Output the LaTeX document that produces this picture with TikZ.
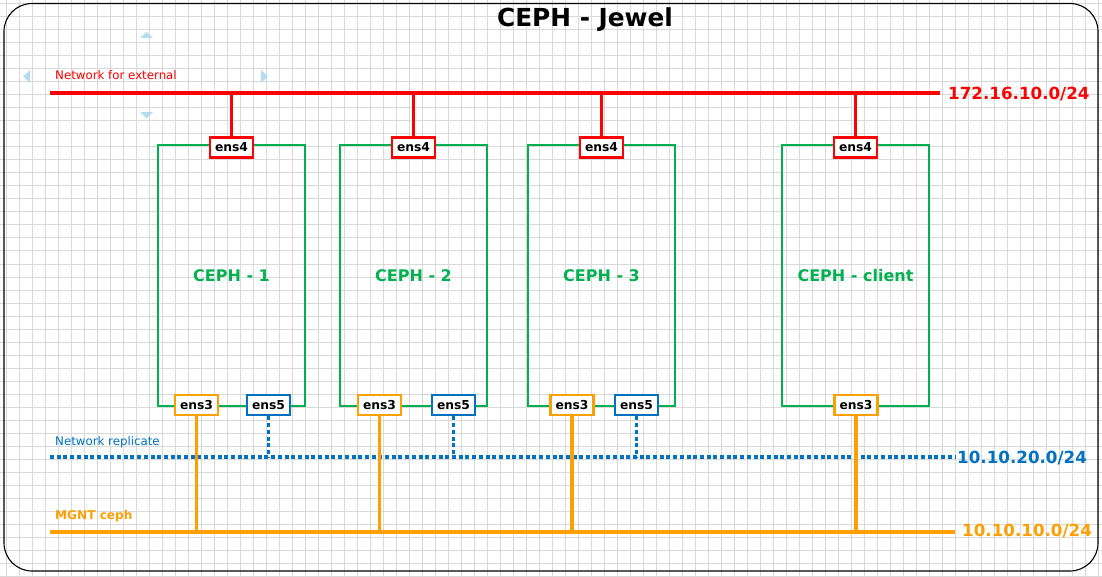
\documentclass[tikz,border=0pt]{standalone}
\usepackage{fontspec}
\setmainfont{DejaVu Sans}
\definecolor{netred}{HTML}{FF0000}
\definecolor{netgreen}{HTML}{00B050}
\definecolor{netblue}{HTML}{0070C0}
\definecolor{netorange}{HTML}{FFA000}
\definecolor{gridgray}{HTML}{D9D9D9}
\definecolor{handle}{HTML}{B8DCEF}
\tikzset{
  hostbox/.style={draw=netgreen, line width=2.7pt, rectangle, minimum width=147pt, minimum height=261pt, inner sep=0pt, text=netgreen, font=\fontsize{16}{18}\selectfont\bfseries},
  nicbox/.style={draw=#1, line width=2.8pt, fill=white, rectangle, minimum width=43pt, minimum height=20pt, inner sep=0pt, font=\fontsize{12.3}{14}\selectfont\bfseries},
  bus/.style={line width=3.2pt, draw=#1},
  dotbus/.style={line width=3.2pt, draw=netblue, dash pattern=on 4pt off 2.7pt},
  iplabel/.style={anchor=base west, inner sep=0pt, font=\fontsize{16.7}{19}\selectfont\bfseries, text=#1},
  netlabel/.style={anchor=base west, inner sep=0pt, font=\fontsize{11.8}{14}\selectfont, text=#1},
  gridline/.style={draw=gridgray, line width=1pt},
}
\begin{document}
\begin{tikzpicture}[x=1pt,y=-1pt]
\useasboundingbox (0,0) rectangle (1102,577);
\clip (0,0) rectangle (1102,577);
\fill[white] (0,0) rectangle (1102,577);
% grid
\foreach \k in {0,...,84} {\draw[gridline] ({6.5+13*\k},0) -- ({6.5+13*\k},577);}
\foreach \k in {0,...,44} {\draw[gridline] (0,{4+13*\k}) -- (1102,{4+13*\k});}
% frame
\draw[black, line width=1.1pt, rounded corners=28pt] (4,3.5) rectangle (1098,571);
% title
\node[anchor=base, inner sep=0pt, font=\fontsize{24.8}{28}\selectfont\bfseries] (title) at (585,26.5) {CEPH - Jewel};
% handle triangles
\fill[handle] (140,38) -- (153,38) -- (146.5,32) -- cycle;
\fill[handle] (140,112) -- (153,112) -- (146.5,118.5) -- cycle;
\fill[handle] (30,70) -- (30,83) -- (23,76.5) -- cycle;
\fill[handle] (261,70) -- (261,83) -- (268,76.5) -- cycle;
% network bus coordinates
\coordinate (redL) at (50,93);
\coordinate (redR) at (940,93);
\coordinate (blueL) at (50,457);
\coordinate (blueR) at (955,457);
\coordinate (oraL) at (50,532);
\coordinate (oraR) at (955,532);
% labels
\node[netlabel=netred] (lext) at (55,80) {Network for external};
\node[netlabel=netblue] (lrep) at (55,445) {Network replicate};
\node[anchor=base west, inner sep=0pt, font=\fontsize{12.1}{14}\selectfont\bfseries, text=netorange] (lmg) at (55,519) {MGNT ceph};
\node[iplabel=netred] (ipred) at (948,99.5) {172.16.10.0/24};
\node[iplabel=netblue] (ipblue) at (957,463.3) {10.10.20.0/24};
\node[iplabel=netorange] (ipora) at (962,536.7) {10.10.10.0/24};
% hosts
\node[hostbox] (h1) at (231.5,275.5) {CEPH - 1};
\node[hostbox] (h2) at (413.5,275.5) {CEPH - 2};
\node[hostbox] (h3) at (601.5,275.5) {CEPH - 3};
\node[hostbox] (hc) at (855.5,275.5) {CEPH - client};
% buses
\draw[bus=netred] (redL) -- (redR);
\draw[dotbus] (blueL) -- (blueR);
\draw[bus=netorange] (oraL) -- (oraR);
% nics
\node[nicbox=netred] (a4) at (231.5,147.5) {ens4};
\node[nicbox=netred] (b4) at (413.5,147.5) {ens4};
\node[nicbox=netred] (c4) at (601.5,147.5) {ens4};
\node[nicbox=netred] (d4) at (855.5,147.5) {ens4};
\node[nicbox=netorange] (a3) at (196.5,405) {ens3};
\node[nicbox=netorange] (b3) at (379.5,405) {ens3};
\node[nicbox=netorange] (c3) at (572,405) {ens3};
\node[nicbox=netorange] (d3) at (856,405) {ens3};
\node[nicbox=netblue] (a5) at (268.5,405) {ens5};
\node[nicbox=netblue] (b5) at (453.5,405) {ens5};
\node[nicbox=netblue] (c5) at (636.5,405) {ens5};
% connectors
\foreach \n in {a4,b4,c4,d4} {\draw[bus=netred] (\n.north) -- (\n.north |- redL);}
\foreach \n in {a3,b3,c3,d3} {\draw[bus=netorange] (\n.south) -- (\n.south |- oraL);}
\foreach \n in {a5,b5,c5} {\draw[dotbus] (\n.south) -- (\n.south |- blueL);}
\end{tikzpicture}
\end{document}
